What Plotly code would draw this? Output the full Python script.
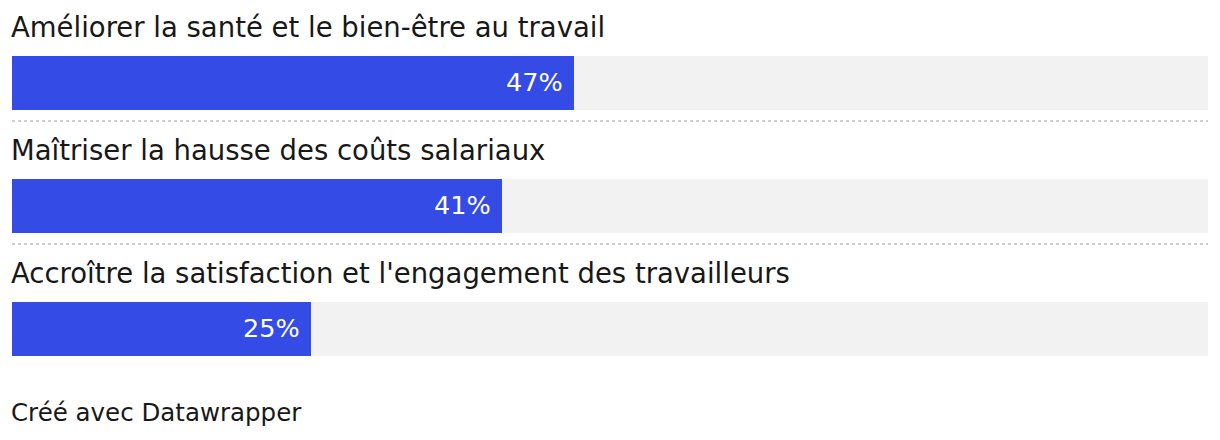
import plotly.graph_objects as go

categories = [
    "Améliorer la santé et le bien-être au travail",
    "Maîtriser la hausse des coûts salariaux",
    "Accroître la satisfaction et l'engagement des travailleurs",
]
values = [47, 41, 25]
value_labels = ["47%", "41%", "25%"]
max_value = 100
footer = "Créé avec Datawrapper"

W, H = 1220, 440
FONT = "DejaVu Sans"
BLUE = "#344BE6"
GRAY = "#F2F2F2"
TEXT = "#181818"

row_pitch_px = 123.0
first_center_px = 83.0
bar_h = 54.0 / row_pitch_px
label_off = 55.0 / row_pitch_px
sep_off = 38.0 / row_pitch_px

y_top = -first_center_px / row_pitch_px
y_bot = (H - first_center_px) / row_pitch_px

idx = list(range(len(categories)))

fig = go.Figure()
fig.add_trace(go.Bar(
    x=[max_value] * len(values), y=idx, orientation="h",
    width=bar_h, marker=dict(color=GRAY, line=dict(width=0)),
    hoverinfo="skip", showlegend=False,
))
fig.add_trace(go.Bar(
    x=values, y=idx, orientation="h",
    width=bar_h, marker=dict(color=BLUE, line=dict(width=0)),
    showlegend=False,
))

for i, (v, t) in enumerate(zip(values, value_labels)):
    fig.add_annotation(
        x=v, y=i, xref="x", yref="y", text=t,
        showarrow=False, xanchor="right", yanchor="middle", xshift=-9, yshift=1,
        font=dict(family=FONT, size=25.5, color="white"),
    )

for i, c in enumerate(categories):
    fig.add_annotation(
        x=0, y=i - label_off, xref="x", yref="y", text=c,
        showarrow=False, xanchor="left", yanchor="middle", xshift=-3, yshift=1,
        font=dict(family=FONT, size=27.5, color=TEXT),
    )
for i in idx[:-1]:
    fig.add_shape(
        type="line", xref="x", yref="y", x0=0, x1=max_value,
        y0=i + sep_off, y1=i + sep_off,
        line=dict(color="#cfcfcf", width=2, dash="dot"),
    )

fig.add_annotation(
    x=0, y=1 - 412 / H, xref="paper", yref="paper", text=footer,
    showarrow=False, xanchor="left", yanchor="middle", xshift=-3,
    font=dict(family=FONT, size=24.5, color=TEXT),
)

fig.update_layout(
    width=W, height=H,
    margin=dict(l=12, r=12, t=0, b=0, pad=0),
    paper_bgcolor="white", plot_bgcolor="white",
    barmode="overlay", bargap=0,
    xaxis=dict(range=[0, max_value], visible=False, fixedrange=True),
    yaxis=dict(range=[y_bot, y_top], visible=False, fixedrange=True),
)

fig.write_html("out.html")
